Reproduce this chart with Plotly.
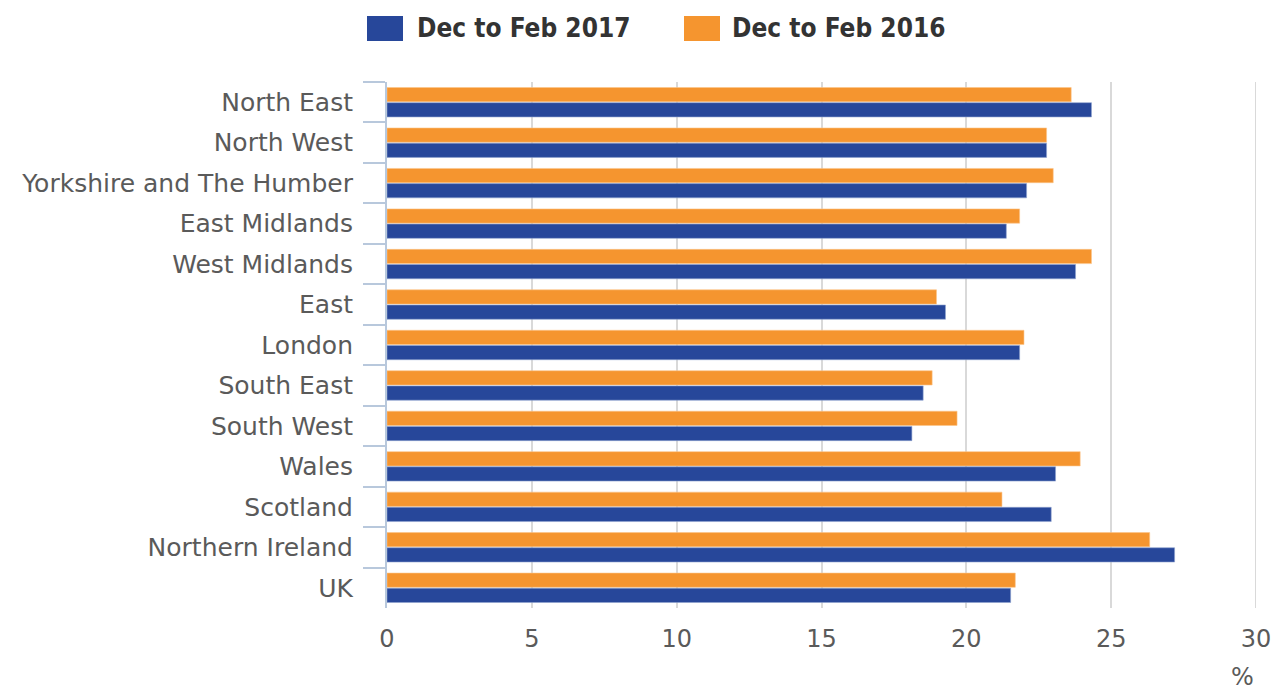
import plotly.graph_objects as go

categories = ["North East", "North West", "Yorkshire and The Humber", "East Midlands",
              "West Midlands", "East", "London", "South East", "South West", "Wales",
              "Scotland", "Northern Ireland", "UK"]
values_2017 = [24.32, 22.77, 22.08, 21.38, 23.77, 19.28, 21.84, 18.51, 18.12, 23.08, 22.93, 27.19, 21.53]
values_2016 = [23.62, 22.77, 23.00, 21.84, 24.32, 18.97, 21.99, 18.82, 19.68, 23.93, 21.23, 26.33, 21.69]
series_names = ["Dec to Feb 2017", "Dec to Feb 2016"]
x_ticks = [0, 5, 10, 15, 20, 25, 30]

BLUE = "#27479a"
ORANGE = "#f5952f"
FONT = "DejaVu Sans"
GRID = "#d9d9d9"

W, H = 1272, 691
L, R, T, B = 387, 16, 82, 83
PW, PH = W - L - R, H - T - B


def px(fx):
    return (fx - L) / PW


def py(fy):
    return (H - B - fy) / PH


fig = go.Figure()
fig.add_trace(go.Bar(y=categories, x=values_2016, name=series_names[1], orientation="h",
                     marker=dict(color=ORANGE, line=dict(color="#fbc48a", width=0.6)), showlegend=False))
fig.add_trace(go.Bar(y=categories, x=values_2017, name=series_names[0], orientation="h",
                     marker=dict(color=BLUE, line=dict(color="#8fa3cf", width=0.6)), showlegend=False))

fig.update_layout(
    width=W, height=H,
    margin=dict(l=L, r=R, t=T, b=B, autoexpand=False),
    paper_bgcolor="white", plot_bgcolor="white",
    barmode="group", bargap=0.25, bargroupgap=0.06,
    font=dict(family=FONT, color="#5a5a5a", size=24),
    xaxis=dict(range=[0, 30], tickvals=x_ticks, showgrid=True, gridcolor=GRID, gridwidth=2,
               zeroline=False, showline=False, ticks="", ticklabelstandoff=14, automargin=False,
               ticklabeloverflow="allow",
               tickfont=dict(size=24, color="#5a5a5a", family=FONT)),
    yaxis=dict(autorange="reversed", showline=True, linecolor="#b8c8dc", linewidth=2,
               ticks="outside", tickson="boundaries", ticklen=22, tickcolor="#b8c8dc", tickwidth=2,
               ticklabelstandoff=27, showgrid=False, automargin=False,
               tickfont=dict(size=25, color="#5a5a5a", family=FONT)),
)

# gridline at the right end of the axis (plotly hides the edge gridline)
fig.add_shape(type="line", xref="x", yref="paper", x0=x_ticks[-1], x1=x_ticks[-1], y0=0, y1=1,
              line=dict(color=GRID, width=2), layer="below")

# Custom legend
legend_items = [(series_names[0], BLUE, 367, 415), (series_names[1], ORANGE, 684, 730)]
for name, color, lx, tx in legend_items:
    fig.add_shape(type="rect", xref="paper", yref="paper",
                  x0=px(lx), x1=px(lx + 36), y0=py(41), y1=py(16),
                  fillcolor=color, line=dict(color=color, width=0))
    fig.add_annotation(xref="paper", yref="paper", x=px(tx), y=py(28),
                       xanchor="left", yanchor="middle", showarrow=False,
                       text="<b>%s</b>" % name,
                       font=dict(family="DejaVu Sans Condensed, DejaVu Sans", size=26, color="#333333"))

fig.add_annotation(xref="paper", yref="paper", x=px(1256), y=py(677), xanchor="right", yanchor="middle",
                   showarrow=False, text="%", font=dict(family=FONT, size=24, color="#5a5a5a"))

fig.write_html("out.html", config={"displayModeBar": False},
               post_script="document.body.style.margin='0';document.body.style.overflow='hidden';")
